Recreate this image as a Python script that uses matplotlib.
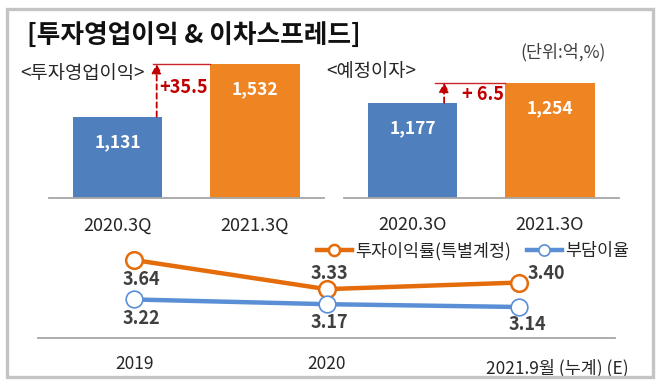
import matplotlib
matplotlib.use("Agg")
import matplotlib.pyplot as plt
from matplotlib.patches import Rectangle
from matplotlib.transforms import ScaledTranslation

plt.rcParams['font.family'] = ['Noto Sans CJK KR', 'DejaVu Sans']

# ---- data ----
title = "[투자영업이익 & 이차스프레드]"
unit_label = "(단위:억,%)"
left_title = "<투자영업이익>"
left_cats = ["2020.3Q", "2021.3Q"]
left_vals = [1131, 1532]
left_delta = "+35.5"
right_title = "<예정이자>"
right_cats = ["2020.3O", "2021.3O"]
right_vals = [1177, 1254]
right_delta = "+ 6.5"
years = ["2019", "2020", "2021.9월 (누계) (E)"]
invest_yield = [3.64, 3.33, 3.40]
burden_rate = [3.22, 3.17, 3.14]
series_names = ["투자이익률(특별계정)", "부담이율"]

BLUE = "#4f80bd"
ORANGE = "#ef8423"
LINE_OR = "#e46c0a"
LINE_BL = "#5a8fd6"
RED = "#c00000"
GRAY_AX = "#a6a6a6"
TXT = "#262626"

W, H = 661, 385
fig = plt.figure(figsize=(W / 100, H / 100), dpi=100)
fig.patch.set_facecolor("white")


def rect(x0, y0, x1, y1):
    return [x0 / W, 1 - y1 / H, (x1 - x0) / W, (y1 - y0) / H]


# border box
fig.patches.append(Rectangle((6.5 / W, 1 - 377 / H), (653 - 6.5) / W, (377 - 9) / H,
                             transform=fig.transFigure, fill=False,
                             edgecolor="#c4c4c4", linewidth=2.4))

fig.text(27 / W, 1 - 35 / H, title, fontsize=18.5, fontweight="bold",
         color="#111111", ha="left", va="center")
fig.text(563 / W, 1 - 52 / H, unit_label, fontsize=12.5, color="#404040",
         ha="center", va="center")


def bar_panel(box, cats, vals, ylim, sub_title, title_x, title_y, delta, line_x0, arrow_x, label_x, label_y):
    ax = fig.add_axes(rect(*box))
    ax.set_xlim(-0.5, 1.5)
    ax.set_ylim(*ylim)
    ax.bar([0, 1], vals, width=0.65, color=[BLUE, ORANGE], zorder=2)
    for i, v in enumerate(vals):
        ax.annotate(f"{v:,}", (i, v), xytext=(0, -18), textcoords="offset points",
                    ha="center", va="center", color="white", fontsize=12.5,
                    fontweight="bold")
    for s in ["top", "right", "left"]:
        ax.spines[s].set_visible(False)
    ax.spines["bottom"].set_color(GRAY_AX)
    ax.spines["bottom"].set_linewidth(1.3)
    ax.set_yticks([])
    ax.set_xticks([0, 1])
    ax.set_xticklabels(cats, fontsize=13, color=TXT)
    ax.tick_params(axis="x", length=0, pad=13)
    # delta annotation
    ax.plot([line_x0, 1 - 0.325], [vals[1], vals[1]], color="#c8262b", lw=1.0, zorder=3)
    ax.annotate("", xy=(arrow_x, vals[1]), xytext=(arrow_x, vals[0]),
                arrowprops=dict(arrowstyle="-|>,head_length=0.55,head_width=0.3",
                                color=RED, lw=1.3, linestyle=(0, (3, 2)),
                                shrinkA=0, shrinkB=0))
    ax.text(label_x, label_y, delta, transform=ax.transData, ha="center", va="center",
            color=RED, fontsize=13, fontweight="bold")
    fig.text(title_x / W, 1 - title_y / H, sub_title, fontsize=13.5, color=TXT,
             ha="left", va="center")
    return ax


bar_panel((48.75, 55, 323.75, 198.3), left_cats, left_vals, (510, 1601),
          left_title, 20, 74, left_delta, 0.258, 0.285, 0.48, 1355)
bar_panel((343.75, 55, 618.75, 198.3), right_cats, right_vals, (809, 1361),
          right_title, 326, 71, right_delta, 0.164, 0.23, 0.51, 1207)

# ---- line chart ----
lx = fig.add_axes(rect(38, 240, 615, 338))
lx.set_xlim(-0.5, 2.5)
lx.set_ylim(2.81, 3.853)
xs = [0, 1, 2]
lx.plot(xs, invest_yield, color=LINE_OR, lw=3.2, marker="o", markersize=12,
        markerfacecolor="white", markeredgecolor=LINE_OR, markeredgewidth=1.8,
        label=series_names[0], zorder=3)
lx.plot(xs, burden_rate, color=LINE_BL, lw=3.2, marker="o", markersize=12,
        markerfacecolor="white", markeredgecolor=LINE_BL, markeredgewidth=1.2,
        label=series_names[1], zorder=3)
for s in ["top", "right", "left"]:
    lx.spines[s].set_visible(False)
lx.spines["bottom"].set_color(GRAY_AX)
lx.spines["bottom"].set_linewidth(1.3)
lx.set_yticks([])
lx.set_xticks(xs)
lx.set_xticklabels(years, fontsize=12.5, color=TXT)
lx.tick_params(axis="x", length=0, pad=12)
lab = lx.get_xticklabels()[2]
lab.set_transform(lab.get_transform() + ScaledTranslation(38 / 100, -4 / 100, fig.dpi_scale_trans))

or_offsets = [(5, -14), (2, 11), (20, 6.5)]
bl_offsets = [(5, -14), (2, -13), (6, -12.5)]
for x, v, off in zip(xs, invest_yield, or_offsets):
    lx.annotate(f"{v:.2f}", (x, v), xytext=off, textcoords="offset points",
                ha="center", va="center", fontsize=13, fontweight="bold", color="#404040")
for x, v, off in zip(xs, burden_rate, bl_offsets):
    lx.annotate(f"{v:.2f}", (x, v), xytext=off, textcoords="offset points",
                ha="center", va="center", fontsize=13, fontweight="bold", color="#404040")

leg = lx.legend(loc="center right", bbox_to_anchor=(629 / W, 1 - 251 / H),
                bbox_transform=fig.transFigure, ncol=2, frameon=False,
                fontsize=12.5, handlelength=2.0, handletextpad=0.2,
                columnspacing=0.9, borderpad=0, borderaxespad=0)
for t in leg.get_texts():
    t.set_color(TXT)
for h in leg.legend_handles:
    h.set_markersize(8)

fig.savefig("out.png", dpi=100, facecolor="white")
